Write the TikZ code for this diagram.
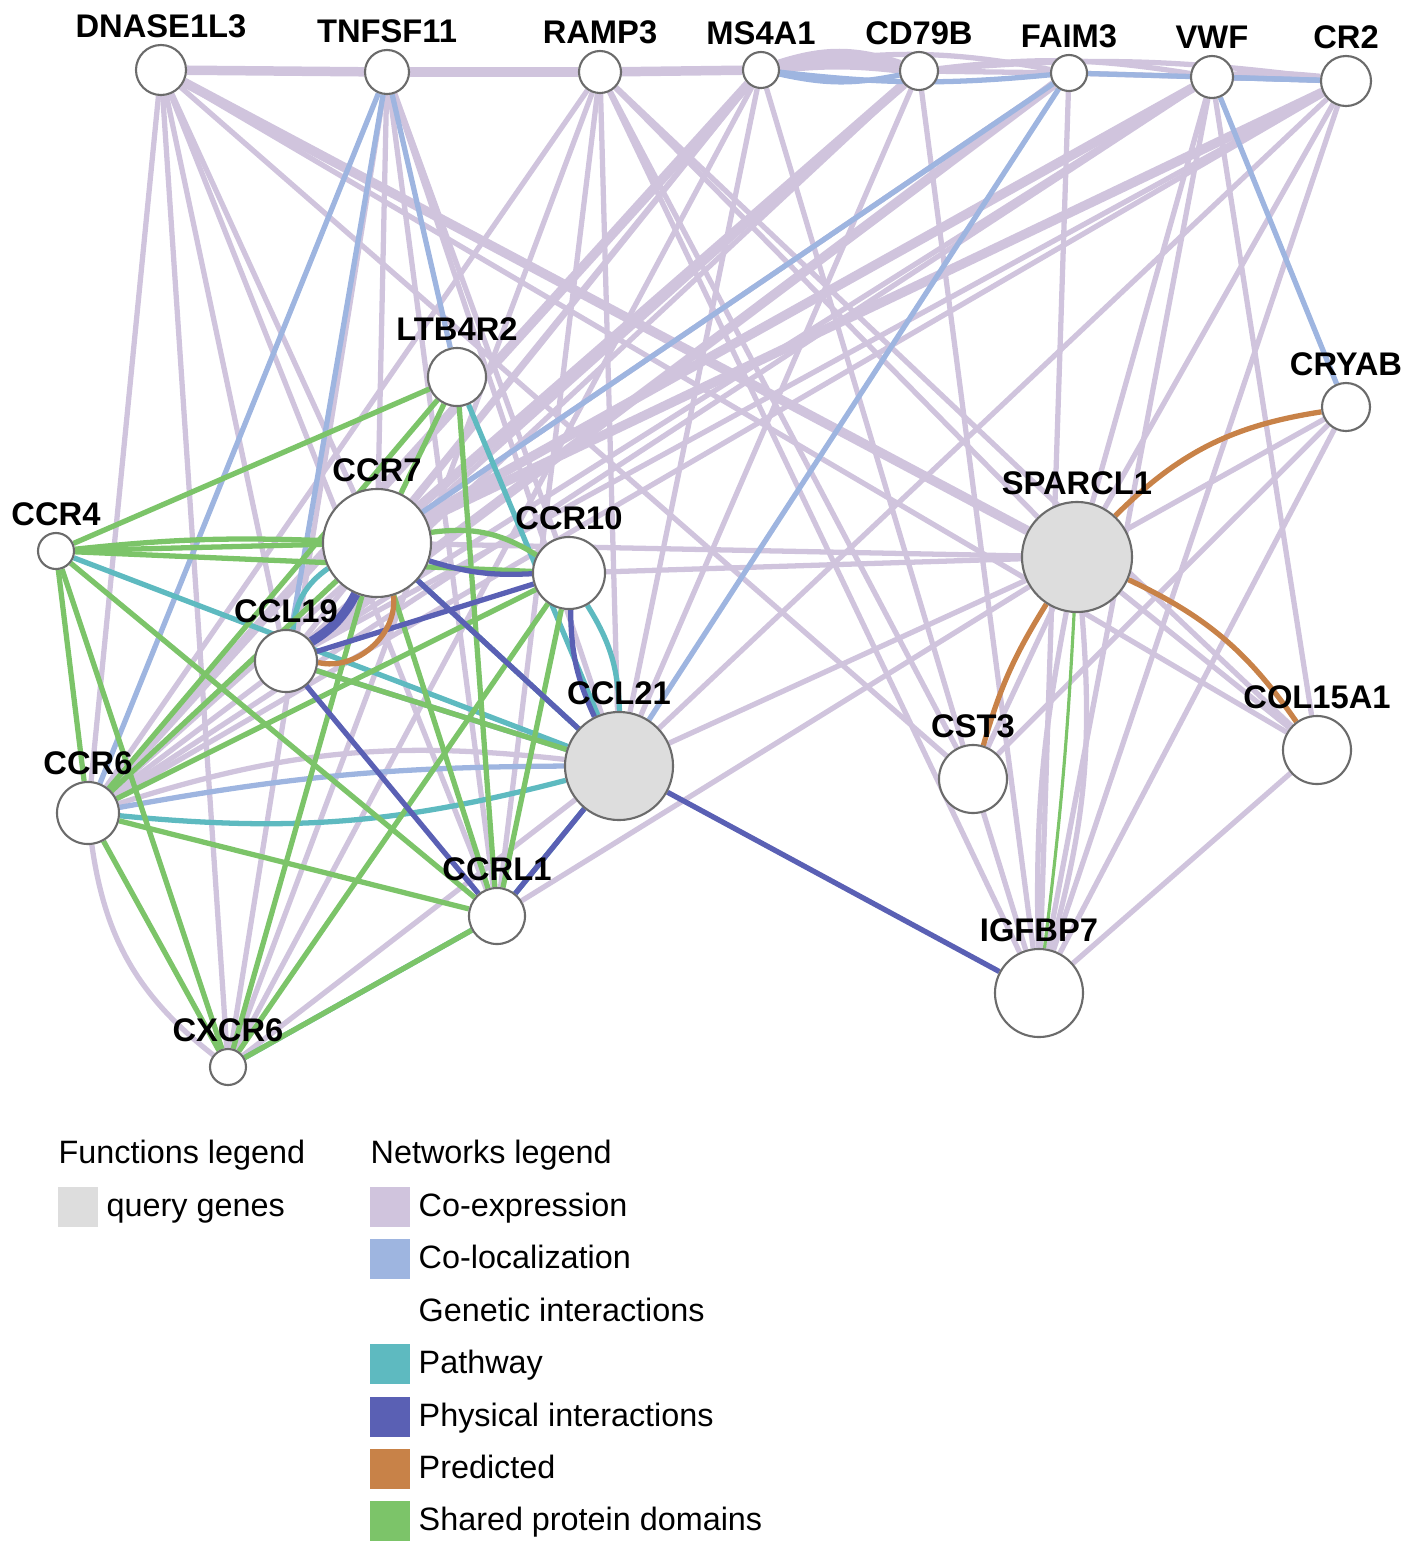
\documentclass[tikz,border=0pt]{standalone}
\usepackage{fontspec}
\setmainfont{Liberation Sans}
\usetikzlibrary{backgrounds}
\definecolor{coexp}{RGB}{208,196,221}
\definecolor{coloc}{RGB}{158,181,224}
\definecolor{pathw}{RGB}{94,186,192}
\definecolor{phys}{RGB}{90,96,180}
\definecolor{pred}{RGB}{200,130,72}
\definecolor{shared}{RGB}{124,196,105}
\definecolor{querygrey}{RGB}{221,221,221}
\begin{document}
\begin{tikzpicture}
[x=0.01cm,y=-0.01cm,
 gene/.style={circle,draw=black!58,line width=0.6pt,fill=white,inner sep=0pt,minimum size=#1},
 query/.style={gene=#1,fill=querygrey},
 lbl/.style={font=\fontsize{9.3}{11}\selectfont\bfseries,inner sep=1pt},
 every label/.style={lbl},
 label distance=0.6pt,
 edge/.style={line width=1.5pt},
 heavy/.style={line width=2.7pt},
 swatch/.style={minimum size=0.4cm,inner sep=0pt,draw=none},
 legtext/.style={font=\fontsize{9.2}{11}\selectfont,inner sep=0pt,text height=6.7pt,text depth=1.9pt,anchor=west}]
\useasboundingbox (0,0) rectangle (1417,1551);
% genes
\node[gene=0.50cm,label=above:DNASE1L3] (dnase1l3) at (161,70) {};
\node[gene=0.44cm,label=above:TNFSF11] (tnfsf11) at (387,72) {};
\node[gene=0.42cm,label=above:RAMP3] (ramp3) at (600,72) {};
\node[gene=0.36cm,label=above:MS4A1] (ms4a1) at (761,70) {};
\node[gene=0.38cm,label=above:CD79B] (cd79b) at (919,71) {};
\node[gene=0.36cm,label=above:FAIM3] (faim3) at (1069,73) {};
\node[gene=0.42cm,label=above:VWF] (vwf) at (1212,77) {};
\node[gene=0.50cm,label=above:CR2] (cr2) at (1346,81) {};
\node[gene=0.58cm,label=above:LTB4R2] (ltb4r2) at (457,377) {};
\node[gene=0.48cm,label=above:CRYAB] (cryab) at (1346,407) {};
\node[gene=1.08cm,label=above:CCR7] (ccr7) at (377,543) {};
\node[gene=0.36cm,label=above:CCR4] (ccr4) at (56,551) {};
\node[gene=0.72cm,label=above:CCR10] (ccr10) at (569,573) {};
\node[query=1.10cm,label=above:SPARCL1] (sparcl1) at (1077,557) {};
\node[gene=0.62cm,label=above:CCL19] (ccl19) at (286,661) {};
\node[query=1.08cm,label=above:CCL21] (ccl21) at (619,766) {};
\node[gene=0.68cm,label=above:CST3] (cst3) at (973,779) {};
\node[gene=0.68cm,label=above:COL15A1] (col15a1) at (1317,750) {};
\node[gene=0.62cm,label=above:CCR6] (ccr6) at (88,813) {};
\node[gene=0.56cm,label=above:CCRL1] (ccrl1) at (497,916) {};
\node[gene=0.88cm,label=above:IGFBP7] (igfbp7) at (1039,993) {};
\node[gene=0.36cm,label=above:CXCR6] (cxcr6) at (228,1067) {};

\begin{scope}[on background layer]
% co-expression
\foreach \from/\to in {dnase1l3/tnfsf11,tnfsf11/ramp3,ramp3/ms4a1,dnase1l3/sparcl1,
  ms4a1/ccr6,cd79b/ccr7,cr2/ccr7,vwf/ccr7,faim3/ccl19}
  \draw[coexp,heavy] (\from) -- (\to);
\foreach \from/\to in {cd79b/faim3,faim3/vwf,vwf/cr2,
  dnase1l3/ccr6,dnase1l3/cxcr6,dnase1l3/ccl19,dnase1l3/ccrl1,dnase1l3/ccr7,dnase1l3/cst3,dnase1l3/col15a1,
  tnfsf11/cxcr6,tnfsf11/ccr7,tnfsf11/ccrl1,tnfsf11/ccl21,tnfsf11/ccr10,
  ramp3/ccr6,ramp3/cxcr6,ramp3/ccrl1,ramp3/ccl21,ramp3/cst3,ramp3/sparcl1,ramp3/igfbp7,ramp3/col15a1,
  ms4a1/ccl19,ms4a1/ccr7,ms4a1/ccl21,ms4a1/cxcr6,ms4a1/cst3,
  cd79b/ccr6,cd79b/ccl19,cd79b/ccl21,cd79b/igfbp7,
  faim3/ccr6,faim3/ccr7,faim3/igfbp7,
  vwf/ccr6,vwf/ccl19,vwf/sparcl1,vwf/igfbp7,vwf/col15a1,
  cr2/ccr6,cr2/ccl19,cr2/ccl21,cr2/sparcl1,cr2/igfbp7,
  cryab/sparcl1,cryab/igfbp7,cryab/cst3,
  sparcl1/ccr10,sparcl1/ccr7,sparcl1/ccl21,sparcl1/ccrl1,sparcl1/col15a1,sparcl1/cst3,
  col15a1/igfbp7,cst3/igfbp7,ccl21/cxcr6,ccl19/ccl21,ccr7/ccl21,ccr6/ccr7}
  \draw[coexp,edge] (\from) -- (\to);
\foreach \b in {6,12,18}
  \draw[coexp,heavy] (ms4a1) to[bend left=\b] (cd79b);
\draw[coexp,edge] (ms4a1) to[bend left=10] (faim3);
\draw[coexp,edge] (cd79b) to[bend left=8] (vwf);
\draw[coexp,edge] (cd79b) to[bend left=6] (cr2);
\draw[coexp,heavy] (vwf) to[bend left=4] (cr2);
\draw[coexp,edge] (sparcl1) to[bend left=10] (igfbp7);
\draw[coexp,edge] (sparcl1) to[bend right=6] (igfbp7);
\draw[coexp,edge] (ccr6) to[bend left=12] (ccl21);
\draw[coexp,edge] (ccr6) to[bend right=22] (cxcr6);
% co-localization
\foreach \from/\to in {tnfsf11/ccr6,tnfsf11/ccl19,tnfsf11/ltb4r2,faim3/ccr7,faim3/ccl21,
  faim3/cr2,vwf/cryab,ccl19/ccl21,vwf/cr2}
  \draw[coloc,edge] (\from) -- (\to);
\draw[coloc,edge] (ms4a1) to[bend right=12] (cd79b);
\draw[coloc,edge] (ms4a1) to[bend right=6] (faim3);
\draw[coloc,edge] (ccr6) to[bend left=5] (ccl21);
% pathway
\foreach \from/\to in {ccr4/ccl21,ltb4r2/ccl21,ccr7/ccl21,cxcr6/ccrl1,ccrl1/ccl21}
  \draw[pathw,edge] (\from) -- (\to);
\draw[pathw,edge] (ccr7) to[bend right=25] (ccl19);
\draw[pathw,edge] (ccr6) to[bend right=10] (ccl21);
\draw[pathw,edge] (ccr10) to[bend left=15] (ccl21);
% shared protein domains
\foreach \from/\to in {ccr4/ltb4r2,ccr4/ccr7,ccr4/ccr10,ccr4/ccr6,ccr4/cxcr6,ccr4/ccrl1,
  ltb4r2/ccr7,ltb4r2/ccrl1,ltb4r2/ccr6,ccr7/ccr6,ccr7/cxcr6,ccr7/ccrl1,
  ccr10/ccr6,ccr10/cxcr6,ccr10/ccrl1,ccr6/ccrl1,ccr6/cxcr6,cxcr6/ccrl1,ccl19/ccl21}
  \draw[shared,edge] (\from) -- (\to);
\draw[shared,edge] (ccr4) to[bend left=4] (ccr7);
\draw[shared,edge] (ccr7) to[bend left=20] (ccr10);
\draw[shared,line width=0.9pt] (sparcl1) to[bend left=2] (igfbp7);
% physical interactions
\foreach \from/\to in {ccl19/ccr10,ccr7/ccl21,ccl19/ccrl1,ccl21/ccrl1,ccl21/igfbp7}
  \draw[phys,edge] (\from) -- (\to);
\draw[phys,edge] (ccr7) to[bend right=10] (ccr10);
\draw[phys,heavy] (ccl19) to[bend right=15] (ccr7);
\draw[phys,edge] (ccr10) to[bend right=12] (ccl21);
% predicted
\draw[pred,edge] (ccl19) to[bend right=55] (ccr7);
\draw[pred,edge] (sparcl1) to[bend left=18] (cryab);
\draw[pred,edge] (sparcl1) to[bend right=8] (cst3);
\draw[pred,edge] (sparcl1) to[bend left=15] (col15a1);
\end{scope}

% legends
\node[legtext] (funclg) at (58,1155) {Functions legend};
\node[swatch,fill=querygrey] (qsw) at (78,1207) {};
\node[legtext] (qtxt) at (106,1208) {query genes};
\node[legtext] (netlg) at (370,1155) {Networks legend};
\foreach \c/\t [count=\i from 0] in {coexp/Co-expression,coloc/Co-localization,
  white/Genetic interactions,pathw/Pathway,phys/Physical interactions,
  pred/Predicted,shared/Shared protein domains}
{
  \node[swatch,fill=\c] (sw\i) at (390,1207+52.4*\i) {};
  \node[legtext] (lt\i) at (418,1208+52.4*\i) {\t};
}
\end{tikzpicture}
\end{document}
